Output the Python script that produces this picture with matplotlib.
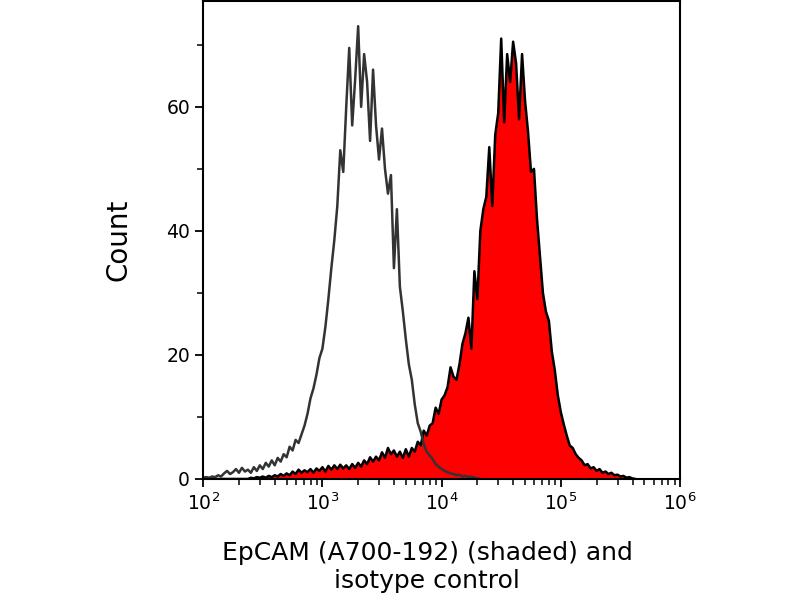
import numpy as np
import matplotlib
matplotlib.use('Agg')
import matplotlib.pyplot as plt
from matplotlib.ticker import LogLocator, MultipleLocator

# canales en escala log10: inicio y paso
log_inicio = 2.0
log_paso = 0.025

# control de isotipo (linea gris)
isotipo = [0.2, 0.3, 0.2, 0.4, 0.3, 0.6, 0.4, 0.9, 1.3, 0.8,
           1.1, 1.6, 1.0, 1.8, 1.2, 1.5, 1.0, 1.9, 1.3, 2.2,
           1.6, 2.6, 2.0, 3.0, 2.2, 3.4, 2.8, 4.0, 3.5, 5.2,
           4.6, 6.3, 5.8, 7.2, 8.6, 10.5, 13.0, 14.6, 16.8, 19.5,
           21.0, 24.5, 29.0, 34.0, 38.5, 44.0, 53.0, 49.5, 60.0, 69.5,
           57.0, 64.5, 73.0, 60.0, 68.5, 64.0, 54.5, 66.0, 57.0, 51.5,
           56.5, 50.0, 46.0, 49.0, 34.0, 43.5, 31.0, 27.0, 22.5, 18.5,
           16.0, 12.0, 9.0, 7.6, 5.6, 4.4, 3.8, 3.2, 2.4, 2.0,
           1.6, 1.3, 1.1, 0.9, 0.8, 0.6, 0.7, 0.4, 0.5, 0.3,
           0.4, 0.2, 0.1, 0.0]

# EpCAM (relleno rojo)
epcam = [0.0] * 16 + [
    0.2, 0.1, 0.3, 0.2, 0.4, 0.2, 0.5, 0.3, 0.6, 0.4,
    0.8, 0.5, 0.9, 0.6, 1.2, 0.8, 1.5, 1.0, 1.4, 1.1,
    1.6, 1.0, 1.7, 1.3, 1.9, 1.2, 2.1, 1.5, 2.2, 1.6,
    2.3, 1.7, 2.2, 1.6, 2.4, 1.8, 2.6, 2.0, 3.0, 2.4,
    3.5, 2.8, 3.6, 3.0, 4.3, 3.4, 5.0, 4.0, 4.6, 3.6,
    4.4, 3.4, 4.8, 3.6, 5.0, 4.4, 6.0, 5.4, 7.8, 7.0,
    8.6, 9.0, 11.5, 10.5, 12.8, 13.5, 14.8, 18.0, 16.5, 16.0,
    18.5, 21.8, 23.5, 26.0, 21.0, 33.5, 29.0, 40.0, 43.5, 45.5,
    53.5, 44.0, 55.5, 59.0, 71.0, 57.5, 68.5, 64.0, 70.5, 67.0,
    58.0, 68.5, 61.0, 56.0, 49.5, 50.0, 42.0, 36.0, 30.0, 27.0,
    25.5, 20.5, 17.5, 13.5, 10.8, 8.8, 7.0, 5.4, 5.0, 4.0,
    3.4, 3.0, 2.2, 2.4, 1.7, 1.9, 1.3, 1.6, 1.0, 1.2,
    0.8, 1.0, 0.6, 0.7, 0.4, 0.5, 0.2, 0.3, 0.1, 0.0]

x_iso = 10 ** (log_inicio + log_paso * np.arange(len(isotipo)))
x_ep = 10 ** (log_inicio + log_paso * np.arange(len(epcam)))

fig = plt.figure(figsize=(8, 6), dpi=100)
ax = fig.add_axes([0.254, 0.2017, 0.596, 0.796])

ax.fill_between(x_ep, epcam, 0, color='#ff0000', linewidth=0)
ax.plot(x_ep, epcam, color='black', linewidth=1.8)
ax.plot(x_iso, isotipo, color='#333333', linewidth=1.8)

ax.set_xscale('log')
ax.set_xlim(1e2, 1e6)
ax.set_ylim(0, 77)
ax.xaxis.set_major_locator(LogLocator(base=10, numticks=10))
ax.xaxis.set_minor_locator(LogLocator(base=10, subs=np.arange(2, 10), numticks=50))
ax.yaxis.set_major_locator(MultipleLocator(20))
ax.yaxis.set_minor_locator(MultipleLocator(10))

for s in ax.spines.values():
    s.set_linewidth(1.5)
ax.tick_params(which='major', direction='out', length=6, width=1.3, labelsize=13.5)
ax.tick_params(which='minor', direction='out', length=4, width=1.1)

ax.set_ylabel('Count', fontsize=20, labelpad=24)
ax.set_xlabel('EpCAM (A700-192) (shaded) and\nisotype control', fontsize=18, labelpad=20)
ax.xaxis.label.set_x(0.47)

plt.savefig('out.png', dpi=100)
